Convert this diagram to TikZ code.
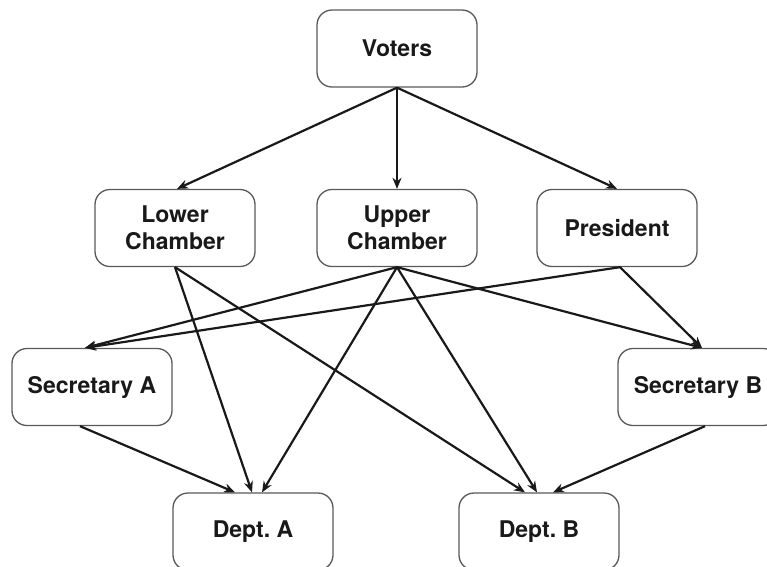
\documentclass[tikz,border=0pt]{standalone}
\usepackage{fontspec}
\setmainfont{TeX Gyre Heros}
\usetikzlibrary{arrows.meta}
\frenchspacing
\begin{document}
\begin{tikzpicture}[x=1pt,y=-1pt,
  box/.style={draw=black!65,line width=1.3pt,rounded corners=15pt,minimum width=160pt,minimum height=77pt,inner sep=0pt,align=center,font=\fontsize{23}{27}\selectfont\bfseries,text=black!90},
  arr/.style={-{Stealth[length=11pt,width=9pt,inset=3.5pt]},line width=2.2pt,draw=black!90}]
\useasboundingbox (0,0) rectangle (767,566);
\node[box] (V) at (397,48.5) {Voters};
\node[box] (L) at (175,228) {Lower\\Chamber};
\node[box] (U) at (397,228) {Upper\\Chamber};
\node[box] (P) at (617,228) {President};
\node[box] (SA) at (92,387) {Secretary A};
\node[box] (SB) at (698,387) {Secretary B};
\node[box] (DA) at (253,531.5) {Dept.\ A};
\node[box] (DB) at (539,531.5) {Dept.\ B};
\draw[arr] (V.south) -- ([xshift=2pt]L.north);
\draw[arr] (V.south) -- (U.north);
\draw[arr] (V.south) -- (P.north);
\draw[arr] (L.south) -- ([xshift=-1pt]DA.north);
\draw[arr] (L.south) -- ([xshift=-14pt]DB.north);
\draw[arr] (U.south) -- ([xshift=-7pt]SA.north);
\draw[arr] (U.south) -- ([xshift=9pt]DA.north);
\draw[arr] (U.south) -- ([xshift=-2pt]DB.north);
\draw[arr] (U.south) -- ([xshift=4pt]SB.north);
\draw[arr] ([xshift=3pt]P.south) -- ([xshift=-7pt]SA.north);
\draw[arr] ([xshift=3pt]P.south) -- ([xshift=4pt]SB.north);
\draw[arr] ([xshift=-12pt]SA.south) -- ([xshift=-18pt]DA.north);
\draw[arr] ([xshift=7pt]SB.south) -- ([xshift=14pt]DB.north);
\end{tikzpicture}
\end{document}
